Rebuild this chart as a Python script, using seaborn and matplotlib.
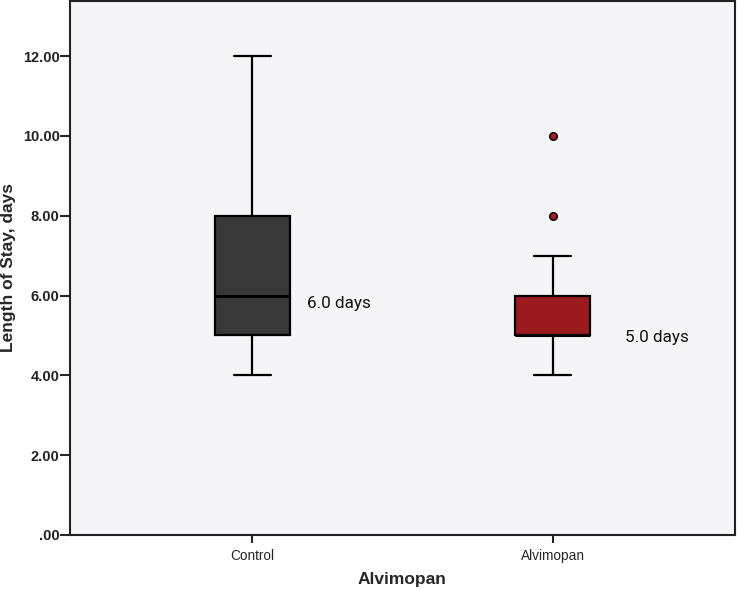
import matplotlib
matplotlib.use("Agg")
import matplotlib.pyplot as plt
import seaborn as sns
import pandas as pd

# Observations chosen to reproduce the plotted box statistics
groups = ["Control", "Alvimopan"]
control_los = [4, 5, 5, 6, 6, 8, 8, 12]
alvimopan_los = [4, 5, 5, 5, 5, 5, 5, 6, 6, 6, 7, 8, 10]
median_labels = ["6.0 days", "5.0 days"]
yticks = [0, 2, 4, 6, 8, 10, 12]
ytick_labels = [".00", "2.00", "4.00", "6.00", "8.00", "10.00", "12.00"]
box_colors = ["#383838", "#9b1a1e"]

df = pd.DataFrame({
    "group": ["Control"] * len(control_los) + ["Alvimopan"] * len(alvimopan_los),
    "los": control_los + alvimopan_los,
})

sns.set_style("white")
plt.rcParams["font.family"] = ["Liberation Sans", "DejaVu Sans"]

fig = plt.figure(figsize=(7.38, 5.91), dpi=100)
ax = fig.add_axes([70 / 738, (591 - 535) / 591, 665 / 738, 534 / 591])
ax.set_facecolor("#f5f5f7")

sns.boxplot(
    data=df, x="group", y="los", order=groups, hue="group", hue_order=groups,
    palette=box_colors, legend=False, width=0.25, whis=1.5, ax=ax,
    linecolor="black", linewidth=1.6,
    flierprops=dict(marker="o", markersize=5.5, markerfacecolor="#9b1a1e",
                    markeredgecolor="black", markeredgewidth=1.0),
    medianprops=dict(color="black", linewidth=2.2),
    saturation=1,
)

ax.set_xlim(-0.608, 1.608)
ax.set_ylim(0, 13.38)
ax.set_yticks(yticks)
ax.set_yticklabels(ytick_labels, fontsize=10.5, fontweight="bold", color="#222222")
ax.tick_params(axis="y", length=7, width=1.5, direction="out", left=True, pad=0.5)
ax.tick_params(axis="x", length=6, width=1.5, direction="out", bottom=True, pad=4,
               labelsize=9.8)

for s in ax.spines.values():
    s.set_color("#222222")
    s.set_linewidth(1.5)

ax.set_xlabel("Alvimopan", fontsize=12.5, fontweight="bold")
ax.set_ylabel("Length of Stay, days", fontsize=12.5, fontweight="bold")
ax.xaxis.set_label_coords(0.5, -0.069)
ax.yaxis.set_label_coords(-0.081, 0.5)

medians = [pd.Series(control_los).median(), pd.Series(alvimopan_los).median()]
offsets = [(0.183, -0.19), (0.243, -0.04)]
for i, (lab, m) in enumerate(zip(median_labels, medians)):
    ax.text(i + offsets[i][0], m + offsets[i][1], lab, fontsize=12.3,
            va="center", ha="left", color="#111111", family=["Roboto", "DejaVu Sans"])

fig.savefig("out.png", dpi=100)
